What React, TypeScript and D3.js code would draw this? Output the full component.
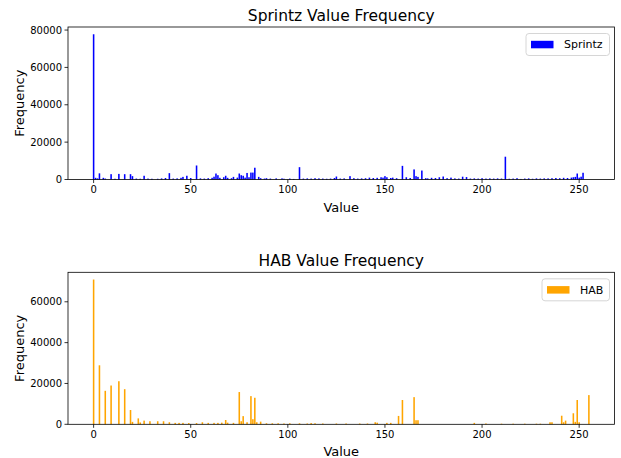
import React from "react";
import * as d3 from "d3";

// ---- Data ----
const sprintzValues = [0,1,2,3,5,6,9,11,13,16,19,20,22,24,26,28,30,33,35,37,39,41,43,45,46,48,50,53,55,57,59,61,62,63,64,65,67,68,69,71,72,74,75,76,77,78,79,80,81,82,83,85,86,88,89,91,94,97,98,101,103,106,108,110,112,114,116,118,120,122,124,125,127,129,132,134,136,138,140,142,144,146,148,149,150,151,153,154,156,159,161,163,165,166,167,169,171,172,174,176,178,180,182,184,186,188,190,192,194,196,198,200,202,204,206,208,210,212,214,216,218,220,222,224,226,228,230,232,234,236,238,240,242,244,246,247,248,249,250,251,252];
const sprintzCounts = [77750,900,600,3300,900,500,2850,400,3000,2850,2850,1800,500,400,2000,500,400,400,600,800,3400,500,600,900,1400,2000,800,7500,600,500,700,900,1500,3200,2300,900,1200,2000,900,700,1400,1000,3200,2300,2000,1000,3500,1200,3700,3700,6300,1400,700,500,700,500,600,600,400,500,300,6600,500,600,500,700,600,500,400,500,800,1600,500,600,1800,700,500,600,700,1000,800,900,1200,1000,1800,1200,800,1000,700,7300,1200,800,5400,1800,1400,4800,700,600,900,800,1200,1600,700,1000,600,500,1500,1300,500,600,500,700,500,600,500,600,500,12200,400,500,700,300,500,600,400,600,500,600,600,700,800,700,900,800,1000,1200,1400,3200,1000,1500,3600];

const habValues = [0,3,6,9,13,16,19,20,23,24,26,29,33,36,39,42,44,46,49,53,56,59,62,64,66,68,69,72,75,76,77,79,81,82,83,84,86,89,92,95,98,101,106,110,112,114,118,125,130,137,141,145,146,151,153,157,159,165,166,167,196,202,210,216,222,228,230,235,236,241,242,243,247,248,249,250,255];
const habCounts = [70900,28900,16400,19000,21100,17200,7000,1200,2900,900,1800,1500,1500,1500,1000,700,700,700,600,600,1000,700,700,700,800,2100,800,700,15800,1500,4000,1000,13800,2500,13000,1000,1300,500,500,500,400,500,500,400,600,500,400,400,400,400,400,1000,800,700,700,4100,11900,13300,2000,2000,700,400,300,300,300,300,300,1000,1000,4200,1000,1800,5400,1200,11900,1000,14300];

const xTicks = [0, 50, 100, 150, 200, 250];
const sprintzYTicks = [0, 20000, 40000, 60000, 80000];
const habYTicks = [0, 20000, 40000, 60000];

const FONT = "DejaVu Sans, sans-serif";
const LEFT = 68;
const RIGHT = 614.5;

type PanelProps = {
  title: string;
  label: string;
  values: number[];
  counts: number[];
  yTicks: number[];
  color: string;
  top: number;
  bottom: number;
  legendX: number;
  legendW: number;
};

function Panel({ title, label, values, counts, yTicks, color, top, bottom, legendX, legendW }: PanelProps) {
  const xMin = -0.4 - 0.05 * 255.8;
  const xMax = 255.4 + 0.05 * 255.8;
  const x = d3.scaleLinear().domain([xMin, xMax]).range([LEFT, RIGHT]);
  const maxC = d3.max(counts) as number;
  const y = d3.scaleLinear().domain([0, maxC * 1.05]).range([bottom, top]);
  const midX = (LEFT + RIGHT) / 2;
  const midY = (top + bottom) / 2;
  const legendY = top + 6.5;
  return (
    <g>
      <text x={midX} y={top - 6} textAnchor="middle" fontSize={15.5} fontFamily={FONT} fill="#000">
        {title}
      </text>
      {values.map((v, i) => (
        <rect
          key={v}
          x={x(v - 0.4)}
          width={x(v + 0.4) - x(v - 0.4)}
          y={y(counts[i])}
          height={bottom - y(counts[i])}
          fill={color}
        />
      ))}
      <rect x={LEFT} y={top} width={RIGHT - LEFT} height={bottom - top} fill="none" stroke="#000" strokeWidth={0.8} />
      {xTicks.map((t) => (
        <g key={t}>
          <line x1={x(t)} x2={x(t)} y1={bottom} y2={bottom + 3.5} stroke="#000" strokeWidth={0.8} />
          <text x={x(t)} y={bottom + 6} dy="0.76em" textAnchor="middle" fontSize={10} fontFamily={FONT} fill="#000">
            {t}
          </text>
        </g>
      ))}
      {yTicks.map((t) => (
        <g key={t}>
          <line x1={LEFT - 3.5} x2={LEFT} y1={y(t)} y2={y(t)} stroke="#000" strokeWidth={0.8} />
          <text x={LEFT - 6} y={y(t)} dy="0.35em" textAnchor="end" fontSize={10} fontFamily={FONT} fill="#000">
            {t}
          </text>
        </g>
      ))}
      <text x={midX} y={bottom + 32} textAnchor="middle" fontSize={13} fontFamily={FONT} fill="#000">
        Value
      </text>
      <text
        transform={`translate(${24},${midY}) rotate(-90)`}
        textAnchor="middle"
        fontSize={13}
        fontFamily={FONT}
        fill="#000"
      >
        Frequency
      </text>
      <rect x={legendX} y={legendY} width={legendW} height={22} rx={3} fill="#fff" fillOpacity={0.8} stroke="#cccccc" strokeWidth={0.8} />
      <rect x={legendX + 5} y={legendY + 7.3} width={22.5} height={7.5} fill={color} />
      <text x={legendX + 38} y={legendY + 11} dy="0.36em" fontSize={11} fontFamily={FONT} fill="#000">
        {label}
      </text>
    </g>
  );
}

export default function App() {
  return (
    <svg width={621} height={458} style={{ position: "absolute", left: 0, top: 0, background: "#fff" }}>
      <rect x={0} y={0} width={621} height={458} fill="#fff" />
      <Panel
        title="Sprintz Value Frequency"
        label="Sprintz"
        values={sprintzValues}
        counts={sprintzCounts}
        yTicks={sprintzYTicks}
        color="#0000ff"
        top={27}
        bottom={179.5}
        legendX={526}
        legendW={83.5}
      />
      <Panel
        title="HAB Value Frequency"
        label="HAB"
        values={habValues}
        counts={habCounts}
        yTicks={habYTicks}
        color="#ffa500"
        top={272.3}
        bottom={424.3}
        legendX={542}
        legendW={67.5}
      />
    </svg>
  );
}
